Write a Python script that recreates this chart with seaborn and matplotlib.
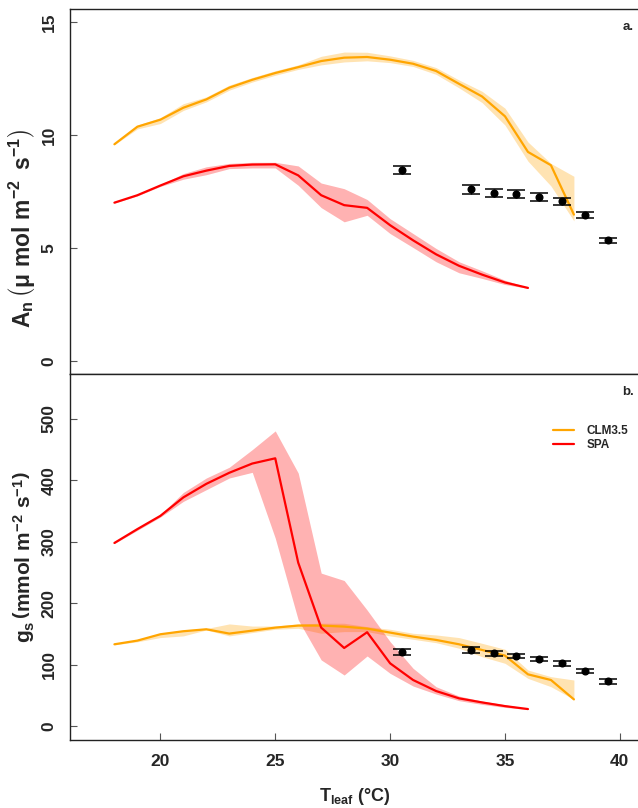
import matplotlib
matplotlib.use("Agg")
import numpy as np
import pandas as pd
import matplotlib.pyplot as plt
import seaborn as sns

# === DATA ===
# leaf temperature for model runs
t_clm = list(range(18, 39))
t_spa = list(range(18, 37))

# net assimilation (umol m-2 s-1), model mean and band limits
an_clm = [9.60, 10.38, 10.69, 11.22, 11.59, 12.11, 12.46, 12.76, 13.02, 13.29, 13.44,
          13.47, 13.35, 13.17, 12.85, 12.28, 11.72, 10.84, 9.26, 8.67, 6.48]
an_clm_lo = [9.58, 10.28, 10.52, 11.10, 11.48, 12.00, 12.36, 12.66, 12.92, 13.12, 13.25,
             13.30, 13.22, 13.05, 12.70, 12.10, 11.45, 10.45, 8.85, 7.75, 6.20]
an_clm_hi = [9.62, 10.45, 10.78, 11.40, 11.70, 12.22, 12.56, 12.86, 13.12, 13.50, 13.69,
             13.68, 13.52, 13.32, 13.00, 12.45, 11.95, 11.20, 9.70, 8.75, 8.18]
an_spa = [7.01, 7.34, 7.77, 8.18, 8.43, 8.64, 8.70, 8.71, 8.22, 7.34, 6.90,
          6.78, 6.01, 5.34, 4.72, 4.21, 3.82, 3.47, 3.23]
an_spa_lo = [6.99, 7.31, 7.73, 8.05, 8.25, 8.52, 8.55, 8.55, 7.78, 6.79, 6.16,
             6.45, 5.64, 5.02, 4.39, 3.90, 3.65, 3.38, 3.21]
an_spa_hi = [7.03, 7.37, 7.81, 8.30, 8.60, 8.75, 8.80, 8.80, 8.64, 7.88, 7.63,
             7.15, 6.30, 5.64, 4.98, 4.39, 3.99, 3.57, 3.25]

# stomatal conductance (mmol m-2 s-1)
gs_clm = [133.4, 139.4, 149.7, 154.6, 157.8, 150.8, 155.6, 160.5, 163.8, 163.8, 162.1,
          158.9, 152.4, 145.9, 140.5, 133.4, 124.2, 115.0, 84.6, 75.4, 43.9]
gs_clm_lo = [132.5, 137.5, 144.3, 147.0, 156.7, 147.0, 152.4, 157.8, 159.4, 151.3, 154.0,
             154.0, 147.0, 141.5, 136.0, 127.0, 113.3, 102.5, 78.0, 64.5, 43.9]
gs_clm_hi = [134.4, 141.4, 151.3, 156.7, 159.0, 166.5, 163.0, 163.0, 166.5, 167.6, 167.6,
             162.0, 157.8, 151.3, 148.6, 144.3, 135.0, 125.3, 91.6, 80.8, 75.4]
gs_spa = [298.0, 320.5, 342.0, 372.0, 394.0, 412.0, 427.0, 435.5, 266.0, 160.5, 127.4,
          153.0, 102.5, 75.4, 57.5, 45.6, 39.0, 33.0, 28.2]
gs_spa_lo = [297.0, 318.5, 340.0, 365.5, 384.5, 403.5, 412.7, 305.9, 173.0, 108.0, 83.5,
             114.4, 86.2, 65.6, 52.6, 41.8, 35.8, 30.9, 27.5]
gs_spa_hi = [299.0, 322.5, 344.0, 380.0, 403.5, 421.0, 449.6, 480.0, 411.6, 249.0, 237.0,
             189.0, 137.7, 94.4, 64.5, 49.3, 41.2, 35.2, 29.0]

# observations with error bars
t_obs = [30.5, 33.5, 34.5, 35.5, 36.5, 37.5, 38.5, 39.5]
an_obs = [8.45, 7.60, 7.43, 7.38, 7.25, 7.07, 6.45, 5.34]
an_obs_err = [0.18, 0.20, 0.18, 0.17, 0.17, 0.16, 0.13, 0.10]
gs_obs = [121.0, 124.2, 118.8, 114.4, 109.5, 102.5, 89.5, 73.2]
gs_obs_err = [4.5, 4.5, 4.5, 4.0, 4.0, 4.0, 3.5, 3.5]

clm = pd.DataFrame({"t": t_clm, "an": an_clm, "an_lo": an_clm_lo, "an_hi": an_clm_hi,
                    "gs": gs_clm, "gs_lo": gs_clm_lo, "gs_hi": gs_clm_hi})
spa = pd.DataFrame({"t": t_spa, "an": an_spa, "an_lo": an_spa_lo, "an_hi": an_spa_hi,
                    "gs": gs_spa, "gs_lo": gs_spa_lo, "gs_hi": gs_spa_hi})
obs = pd.DataFrame({"t": t_obs, "an": an_obs, "an_err": an_obs_err,
                    "gs": gs_obs, "gs_err": gs_obs_err})

# === STYLE ===
sns.set_style("ticks")
plt.rcParams["font.family"] = ["Liberation Sans", "DejaVu Sans"]
plt.rcParams["font.weight"] = "bold"
plt.rcParams["mathtext.fontset"] = "custom"
plt.rcParams["mathtext.rm"] = "Liberation Sans:bold"
plt.rcParams["mathtext.it"] = "Liberation Sans:bold"
plt.rcParams["mathtext.bf"] = "Liberation Sans:bold"

ORANGE = "#FFA500"
RED = "#FF0000"

fig = plt.figure(figsize=(6.38, 8.08), dpi=100)
ax1 = fig.add_axes([0.1102, 0.5368, 0.8945, 0.4521])
ax2 = fig.add_axes([0.1102, 0.0842, 0.8945, 0.4526])


def draw_panel(ax, var, obs_var, obs_err):
    ax.fill_between(clm["t"], clm[var + "_lo"], clm[var + "_hi"], color=ORANGE,
                    alpha=0.3, lw=0)
    ax.fill_between(spa["t"], spa[var + "_lo"], spa[var + "_hi"], color=RED,
                    alpha=0.3, lw=0)
    sns.lineplot(data=clm, x="t", y=var, color=ORANGE, lw=1.6, ax=ax, label="CLM3.5")
    sns.lineplot(data=spa, x="t", y=var, color=RED, lw=1.6, ax=ax, label="SPA")
    ax.errorbar(obs["t"], obs[obs_var], yerr=obs[obs_err], fmt="o", color="black",
                ms=4.8, capsize=6.2, elinewidth=1, capthick=1.1)
    ax.set_xlim(16.08, 40.92)
    ax.tick_params(direction="in", length=5, width=0.8, color="#555555",
                   labelsize=12.5, pad=10)
    ax.tick_params(axis="y", labelrotation=90)
    for lab in ax.get_yticklabels():
        lab.set_va("center")
    for s in ax.spines.values():
        s.set_color("#222222")
        s.set_linewidth(1.0)


draw_panel(ax1, "an", "an", "an_err")
draw_panel(ax2, "gs", "gs", "gs_err")

# top panel
ax1.set_ylim(-0.6, 15.6)
ax1.set_yticks([0, 5, 10, 15])
ax1.set_xticks([])
ax1.set_xlabel("")
ax1.set_ylabel(r"$\mathrm{A_n}\,\left(\mu\ \mathrm{mol\ m^{-2}\ \,s^{-1}}\right)$", fontsize=16.5)
ax1.yaxis.set_label_coords(-0.058, 0.40)
ax1.get_legend().remove()
ax1.text(0.977, 0.951, "a.", transform=ax1.transAxes, ha="center", va="center",
         fontsize=9.5, fontweight="bold")

# bottom panel
ax2.set_ylim(-22, 572)
ax2.set_yticks([0, 100, 200, 300, 400, 500])
ax2.set_xticks([20, 25, 30, 35, 40])
ax2.set_ylabel(r"$\mathrm{g_s}\,\left(\mathrm{mmol\ m^{-2}\ s^{-1}}\right)$", fontsize=15)
ax2.yaxis.set_label_coords(-0.058, 0.50)
ax2.set_xlabel(r"$\mathrm{T_{leaf}}\ (\degree\mathrm{C})$", fontsize=13)
ax2.xaxis.set_label_coords(0.498, -0.126)
ax2.legend(loc="upper left", bbox_to_anchor=(0.846, 0.862), borderaxespad=0,
           borderpad=0, frameon=False, handlelength=1.8, handletextpad=1.0,
           labelspacing=0.2, prop={"size": 8.5, "weight": "bold"})
ax2.text(0.977, 0.952, "b.", transform=ax2.transAxes, ha="center", va="center",
         fontsize=9.5, fontweight="bold")

fig.savefig("out.png", dpi=100)
